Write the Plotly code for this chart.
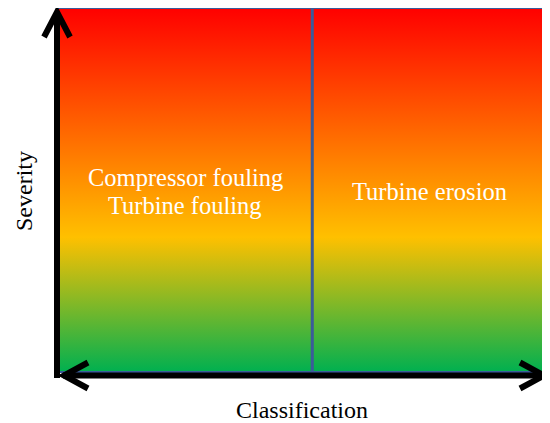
import plotly.graph_objects as go

# ---- data ----
classes = ["Compressor fouling<br>Turbine fouling", "Turbine erosion"]
class_edges = [0.0, 0.52, 1.0]          # classification boundaries (fraction of axis)
severity_range = [0.0, 1.0]
gradient_stops = [0.0, 0.37, 1.0]       # low severity -> high severity
gradient_colors = ["#00B050", "#FFC000", "#FF0000"]
axis_titles = ["Classification", "Severity"]

PAGE_W, PAGE_H = 550, 423
OFF = 8                                  # browser body margin
W, H = PAGE_W - OFF, PAGE_H - OFF
BORDER = "#3B5B9A"
LINE_GAP = 28                            # px between label lines

# screen pixel -> data units (box spans px 58..547 horizontally, 372..8 vertically)
px_x = lambda p: (p - 58) / 489
px_y = lambda p: (372 - p) / 364

fig = go.Figure()

colorscale = [[s, c] for s, c in zip(gradient_stops, gradient_colors)]
y0, y1 = severity_range
for i, name in enumerate(classes):
    xa, xb = class_edges[i], class_edges[i + 1]
    fig.add_trace(go.Scatter(
        x=[xa, xb, xb, xa, xa], y=[y0, y0, y1, y1, y0],
        mode="lines", fill="toself",
        fillgradient=dict(type="vertical", colorscale=colorscale, start=y0, stop=y1),
        line=dict(width=0), hoverinfo="skip", showlegend=False,
    ))
    lines = name.split("<br>")
    n = len(lines)
    for k, ln in enumerate(lines):
        cy = 191.5 + (k - (n - 1) / 2) * LINE_GAP
        fig.add_annotation(
            x=(xa + xb) / 2, y=px_y(cy), xref="x", yref="y",
            text=ln, showarrow=False,
            font=dict(family="Liberation Serif", size=24.5, color="white"),
        )

# outline of box and divider
fig.add_shape(type="rect", x0=class_edges[0], x1=class_edges[-1], y0=y0, y1=y1,
              xref="x", yref="y", line=dict(color=BORDER, width=2))
for xe in class_edges[1:-1]:
    fig.add_shape(type="line", x0=xe, x1=xe, y0=y0, y1=y1, xref="x", yref="y",
                  line=dict(color=BORDER, width=3))

# ---- axes arrows ----
AW = 6
arrow = dict(color="black", width=AW)
# vertical axis: stem + chevron
fig.add_shape(type="line", x0=px_x(57), x1=px_x(57), y0=px_y(378), y1=px_y(12),
              xref="x", yref="y", line=arrow)
fig.add_shape(type="path", xref="x", yref="y", line=arrow,
              path=f"M {px_x(44)} {px_y(37)} L {px_x(57)} {px_y(12)} L {px_x(70)} {px_y(37)}")
# horizontal double arrow
fig.add_shape(type="line", x0=px_x(63), x1=px_x(545), y0=px_y(375.5), y1=px_y(375.5),
              xref="x", yref="y", line=arrow)
fig.add_shape(type="path", xref="x", yref="y", line=arrow,
              path=f"M {px_x(88)} {px_y(362.5)} L {px_x(64)} {px_y(375.5)} L {px_x(88)} {px_y(388.5)}")
fig.add_shape(type="path", xref="x", yref="y", line=arrow,
              path=f"M {px_x(520)} {px_y(362.5)} L {px_x(544)} {px_y(375.5)} L {px_x(520)} {px_y(388.5)}")

# axis titles
fig.add_annotation(x=px_x(302), y=px_y(410), xref="x", yref="y", text=axis_titles[0],
                   showarrow=False, font=dict(family="Liberation Serif", size=24, color="black"))
fig.add_annotation(x=px_x(24), y=px_y(191), xref="x", yref="y", text=axis_titles[1],
                   showarrow=False, textangle=-90,
                   font=dict(family="Liberation Serif", size=24, color="black"))

fig.update_layout(
    width=W, height=H,
    margin=dict(l=0, r=0, t=0, b=0),
    paper_bgcolor="white", plot_bgcolor="white",
    xaxis=dict(range=[px_x(OFF), px_x(PAGE_W)], visible=False, fixedrange=True),
    yaxis=dict(range=[px_y(PAGE_H), px_y(OFF)], visible=False, fixedrange=True),
    showlegend=False,
)

fig.write_html("out.html")
